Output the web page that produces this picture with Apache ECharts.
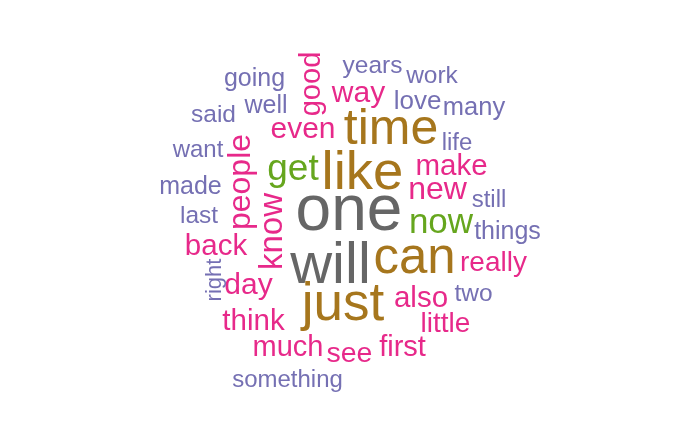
<!DOCTYPE html>
<html>
<head>
<meta charset="utf-8">
<script src="https://cdn.jsdelivr.net/npm/echarts@6/dist/echarts.min.js"></script>
<style>
html,body{margin:0;padding:0;background:#fff;}
#chart{width:700px;height:432px;}
</style>
</head>
<body>
<div id="chart"></div>
<script>
const words = ["one","will","like","just","can","time","get","now","know","people","new","even","way","day","back","make","think","also","good","much","first","see","little","really","love","many","going","well","made","things","said","years","work","last","two","life","want","still","something","right"];
const counts = [1667,1467,1350,1300,1233,1200,767,700,633,600,600,533,533,533,517,517,517,517,500,500,500,483,467,467,400,383,367,367,367,367,350,350,350,350,350,333,333,333,333,267];
// Layout of each word in the cloud (x, y in the 700 x 432 cloud space)
const layoutX = [349,330.5,362.5,343,414.5,391,293,441,272.8,241,437.5,303,358.5,248.5,216,451.5,253.5,421,311.9,288,402.5,349.5,445.5,493.5,417.5,474,254.5,266,190.5,507.5,213.5,372.5,432,199,473.5,457,198,489,287.5,214.8];
const layoutY = [212.1,266.8,173.7,305.7,259.2,130,169.6,223.7,231.5,182,190,129.6,93.6,286.1,246.7,166.7,321.7,298.7,84,347.9,347.9,354,324.2,263.7,101.7,107.9,79,106,187,232.3,115.1,66.1,76.1,216.1,294.6,143.3,150.3,200.3,380.3,280];
// Words drawn vertically
const verticalWords = ["know","people","good","right"];

// Colour bins by frequency (Dark2 palette tones)
const binEdges = [0, 420, 650, 1000, 1420];
const binColors = ["#7570B3","#E7298A","#66A61E","#A6761D","#666666"];

function colorFor(c){
  let col = binColors[0];
  for (let i = 0; i < binEdges.length; i++) if (c >= binEdges[i]) col = binColors[i];
  return col;
}
function sizeFor(c){
  return 14 + 0.03 * c;
}

const data = words.map((w, i) => ({
  name: w,
  value: [layoutX[i], layoutY[i], counts[i]],
  label: {
    fontSize: sizeFor(counts[i]),
    color: colorFor(counts[i]),
    rotate: verticalWords.indexOf(w) >= 0 ? 90 : 0
  }
}));

const chart = echarts.init(document.getElementById('chart'), null, {renderer: 'canvas'});
chart.setOption({
  backgroundColor: '#ffffff',
  animation: false,
  grid: {left: 0, right: 0, top: 0, bottom: 0},
  xAxis: {type: 'value', min: 0, max: 700, show: false},
  yAxis: {type: 'value', min: 0, max: 432, inverse: true, show: false},
  series: [{
    type: 'scatter',
    symbolSize: 0,
    silent: true,
    itemStyle: {opacity: 1},
    data: data,
    label: {
      show: true,
      opacity: 1,
      position: 'inside',
      align: 'center',
      verticalAlign: 'middle',
      fontFamily: '"Liberation Sans", Arial, sans-serif',
      formatter: p => p.name
    },
    labelLayout: {hideOverlap: false}
  }]
});
</script>
</body>
</html>
